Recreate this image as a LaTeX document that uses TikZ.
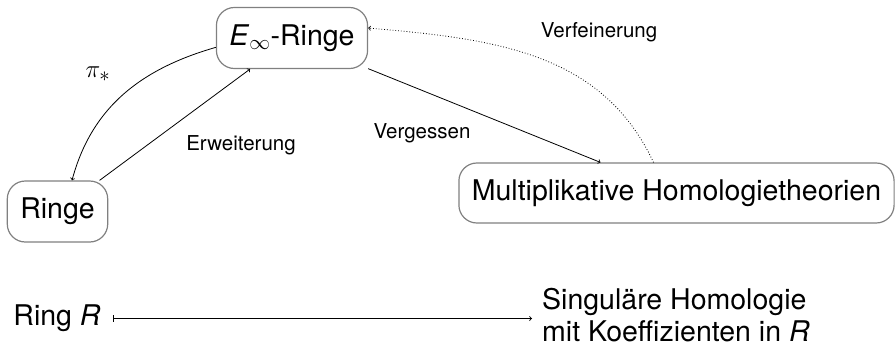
\documentclass[tikz,border=0pt]{standalone}
\usepackage{fontspec}
\setmainfont{TeX Gyre Heros}
\definecolor{boxgray}{gray}{0.5}
\begin{document}
\begin{tikzpicture}[x=1pt,y=-1pt,
  box/.style={draw=boxgray, line width=1.2pt, rounded corners=18pt, inner xsep=13pt, minimum height=61pt, font=\fontsize{28.5}{30}\selectfont},
  lbl/.style={font=\fontsize{20.5}{24}\selectfont},
  big/.style={font=\fontsize{28.5}{30}\selectfont},
  conn/.style={line width=0.8pt, ->}]
\useasboundingbox (0,0) rectangle (896,345);
\node[box] (E) at (292,38) {\textit{E}$_\infty$-Ringe};
\node[box] (R) at (57.5,211.5) {Ringe};
\node[box, minimum height=60pt] (M) at (676.5,193) {Multiplikative Homologietheorien};

\draw[conn] (E.187) to[out=196, in=75] (R.65);
\draw[conn] (R) -- (E);
\draw[conn] (E) -- ([xshift=-76pt]M.north);
\draw[conn, dotted] ([xshift=-23pt]M.north) to[out=115, in=-5] ([yshift=10pt]E.east);

\node[lbl] (lpi) at (98,74) {\fontsize{29}{30}\selectfont$\pi_*$};
\node[lbl] (lerw) at (241,145) {Erweiterung};
\node[lbl] (lverg) at (422,133) {Vergessen};
\node[lbl] (lverf) at (599,32) {Verfeinerung};

\node[big, inner xsep=12pt] (rr) at (57,318.5) {Ring \textit{R}};
\node[big, align=left, anchor=west, inner xsep=10pt, inner ysep=0pt] (sh) at (532,315) {Singuläre Homologie\\[2pt]mit Koeffizienten in \textit{R}};
\draw[line width=0.9pt, |->] (rr.east) -- (rr.east -| sh.west);
\end{tikzpicture}
\end{document}
